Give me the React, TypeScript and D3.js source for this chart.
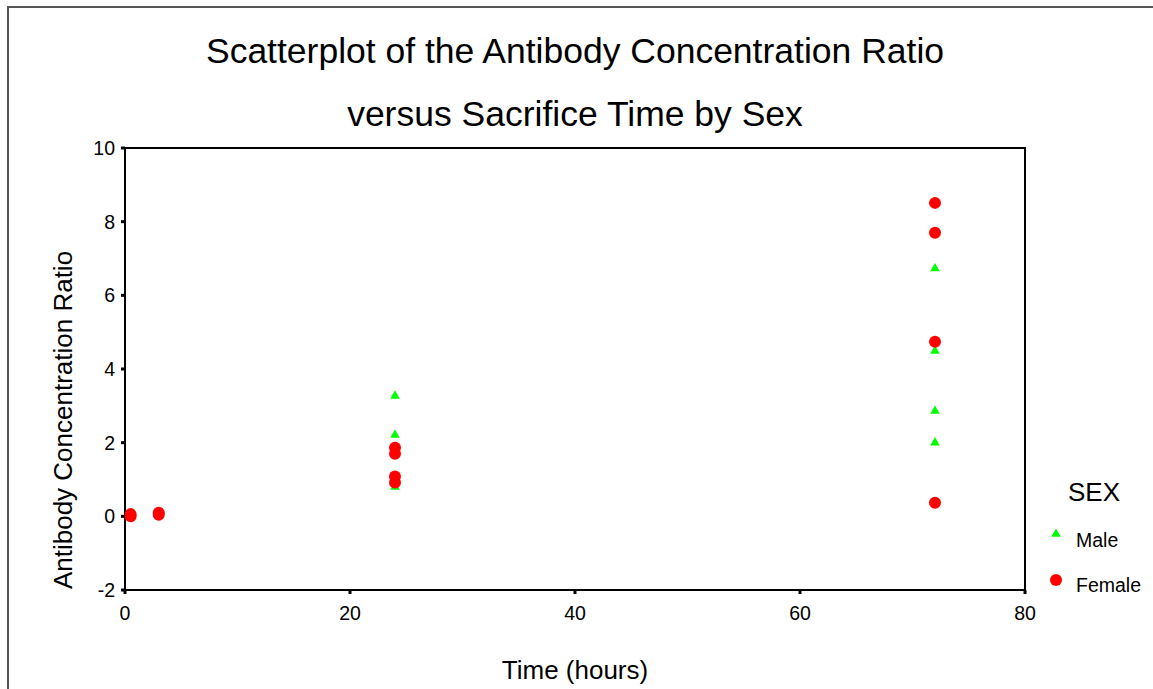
import React from 'react';
import * as d3 from 'd3';

const maleTimes = [24, 24, 24, 72, 72, 72, 72];
const maleRatios = [3.27, 2.21, 0.8, 6.73, 4.49, 2.86, 2.0];
const femaleTimes = [0.5, 0.5, 3, 3, 24, 24, 24, 24, 72, 72, 72, 72];
const femaleRatios = [0.0, 0.06, 0.04, 0.1, 1.86, 1.7, 1.08, 0.92, 8.51, 7.7, 4.74, 0.37];
const xTicks = [0, 20, 40, 60, 80];
const yTicks = [-2, 0, 2, 4, 6, 8, 10];

const W = 1153;
const H = 689;
const margin = {top: 148, right: 128, bottom: 99, left: 125};
const font = 'Arial, "Liberation Sans", sans-serif';

export default function App() {
    const x = d3.scaleLinear().domain([0, 80]).range([margin.left, W - margin.right]);
    const y = d3.scaleLinear().domain([-2, 10]).range([H - margin.bottom, margin.top]);
    const tri = d3.symbol().type(d3.symbolTriangle).size(40)() as string;

    const males = maleTimes.map((t, i) => ({t, v: maleRatios[i]}));
    const females = femaleTimes.map((t, i) => ({t, v: femaleRatios[i]}));

    const x0 = x.range()[0], x1 = x.range()[1];
    const y0 = y.range()[0], y1 = y.range()[1];

    return (
        <svg width={W} height={H} style={{position: 'absolute', left: 0, top: 0}} fontFamily={font}>
            <rect width={W} height={H} fill="white"/>
            {/* outer frame, open at right and bottom */}
            <path d={`M8,${H} V7 H${W}`} fill="none" stroke="#555" strokeWidth={2}/>

            <text x={575} y={63} textAnchor="middle" fontSize={35.5}>Scatterplot of the Antibody Concentration Ratio</text>
            <text x={575} y={126} textAnchor="middle" fontSize={35.5}>versus Sacrifice Time by Sex</text>

            {/* plot box */}
            <rect x={x0} y={y1} width={x1 - x0} height={y0 - y1} fill="none" stroke="black" strokeWidth={2}/>

            {yTicks.map(t => (
                <g key={'y' + t}>
                    <line x1={x0 - 4} x2={x0} y1={y(t)} y2={y(t)} stroke="black" strokeWidth={3}/>
                    <text x={x0 - 10} y={y(t)} dy="0.36em" textAnchor="end" fontSize={19.5}>{t}</text>
                </g>
            ))}
            {xTicks.map(t => (
                <g key={'x' + t}>
                    <line x1={x(t)} x2={x(t)} y1={y0} y2={y0 + 4} stroke="black" strokeWidth={3}/>
                    <text x={x(t)} y={y0 + 30} textAnchor="middle" fontSize={19.5}>{t}</text>
                </g>
            ))}

            <text transform="translate(72,420) rotate(-90)" textAnchor="middle" fontSize={26}>
                Antibody Concentration Ratio
            </text>
            <text x={(x0 + x1) / 2} y={679} textAnchor="middle" fontSize={26}>Time (hours)</text>

            {males.map((d, i) => (
                <path key={'m' + i} d={tri} transform={`translate(${x(d.t)},${y(d.v)})`} fill="#00ff00"/>
            ))}
            {females.map((d, i) => (
                <circle key={'f' + i} cx={x(d.t)} cy={y(d.v)} r={6} fill="#ff0000"/>
            ))}

            {/* legend */}
            <text x={1068} y={501} fontSize={26}>SEX</text>
            <path d={tri} transform="translate(1056,534)" fill="#00ff00"/>
            <text x={1076} y={547} fontSize={19.5}>Male</text>
            <circle cx={1056} cy={580} r={6} fill="#ff0000"/>
            <text x={1076} y={592} fontSize={19.5}>Female</text>
        </svg>
    );
}
